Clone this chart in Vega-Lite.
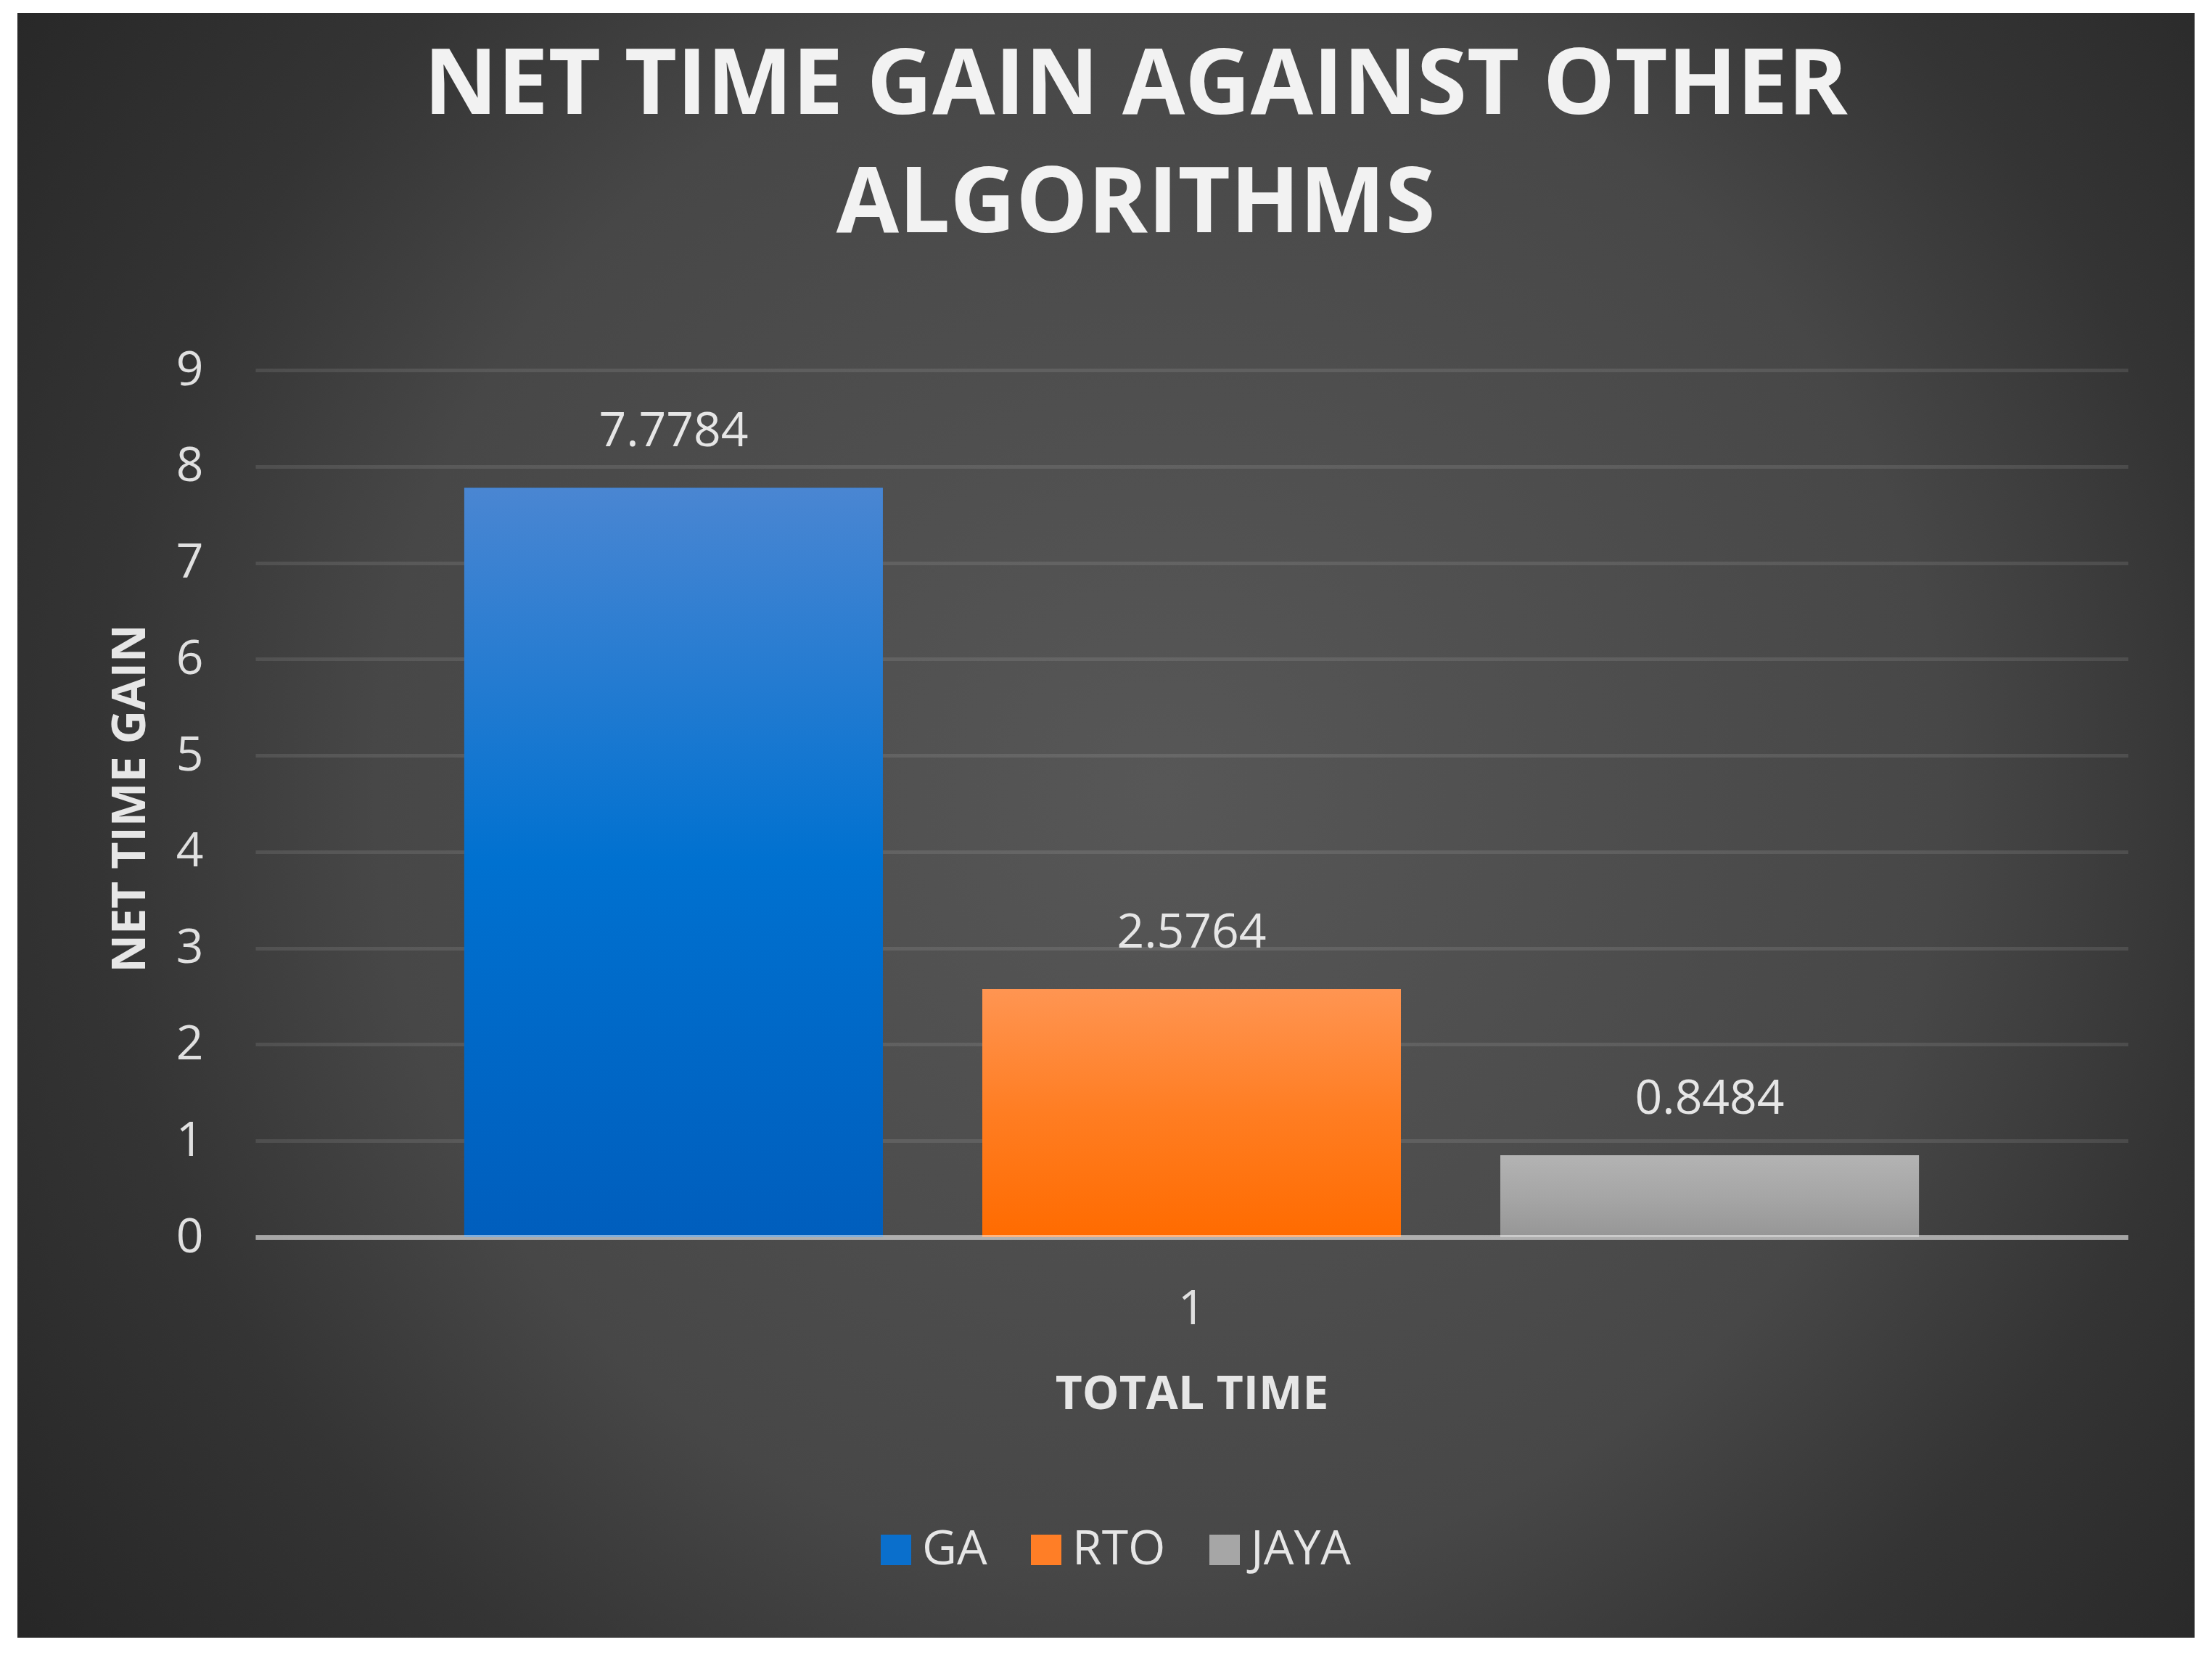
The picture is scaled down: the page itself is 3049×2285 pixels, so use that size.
{
  "$schema": "https://vega.github.io/schema/vega-lite/v6.json",
  "width": 3001,
  "height": 2239,
  "autosize": {"type": "none"},
  "padding": {"left": 24, "top": 18, "right": 24, "bottom": 28},
  "background": "#ffffff",
  "view": {
    "stroke": null,
    "fill": {
      "gradient": "radial",
      "x1": 0.525, "y1": 0.483, "r1": 0,
      "x2": 0.525, "y2": 0.483, "r2": 0.72,
      "stops": [
        {"offset": 0, "color": "#575757"},
        {"offset": 0.5, "color": "#474747"},
        {"offset": 0.68, "color": "#343434"},
        {"offset": 1, "color": "#212121"}
      ]
    }
  },
  "title": {
    "text": ["NET TIME GAIN AGAINST OTHER", "ALGORITHMS"],
    "font": "Open Sans",
    "fontSize": 125,
    "fontWeight": "bold",
    "color": "#f2f2f2",
    "lineHeight": 163,
    "anchor": "middle",
    "frame": "group",
    "baseline": "top",
    "offset": -328,
    "dx": 41
  },
  "data": {
    "values": [
      {"cat": "1", "series": "GA", "value": 7.7784},
      {"cat": "1", "series": "RTO", "value": 2.5764},
      {"cat": "1", "series": "JAYA", "value": 0.8484}
    ]
  },
  "encoding": {
    "x": {
      "field": "cat",
      "type": "nominal",
      "scale": {"domain": ["1"], "range": [328, 2909], "paddingInner": 0, "paddingOuter": 0.1436},
      "axis": {
        "orient": "bottom",
        "offset": -552,
        "labelAngle": 0,
        "grid": false,
        "domain": true,
        "domainColor": "#ffffff",
        "domainOpacity": 0.5,
        "domainWidth": 7,
        "ticks": false,
        "tickSize": 0,
        "labelPadding": 119,
        "labelBaseline": "alphabetic",
        "labelFont": "Open Sans",
        "labelFontSize": 66,
        "labelColor": "#e0e0e0",
        "title": "TOTAL TIME",
        "titleFont": "Open Sans",
        "titleFontSize": 64,
        "titleFontWeight": "bold",
        "titleColor": "#e6e6e6",
        "titlePadding": 104,
        "titleBaseline": "alphabetic",
        "zindex": 1
      }
    },
    "xOffset": {
      "field": "series",
      "type": "nominal",
      "sort": ["GA", "RTO", "JAYA"],
      "scale": {"domain": ["GA", "RTO", "JAYA"], "paddingInner": 0.192, "paddingOuter": 0}
    },
    "y": {
      "field": "value",
      "type": "quantitative",
      "scale": {"domain": [0, 9], "range": [1687, 492], "nice": false},
      "axis": {
        "values": [0, 1, 2, 3, 4, 5, 6, 7, 8, 9],
        "offset": -328,
        "domain": false,
        "ticks": false,
        "tickSize": 0,
        "labelPadding": 72,
        "labelFont": "Open Sans",
        "labelFontSize": 66,
        "labelColor": "#e0e0e0",
        "labelBaseline": "middle",
        "grid": true,
        "gridColor": "#ffffff",
        "gridOpacity": 0.1,
        "gridWidth": 5,
        "title": "NET TIME GAIN",
        "titleFont": "Open Sans",
        "titleFontSize": 64.5,
        "titleFontWeight": "bold",
        "titleColor": "#e6e6e6",
        "titlePadding": 43,
        "titleBaseline": "alphabetic",
        "titleY": 1082
      }
    }
  },
  "layer": [
    {
      "mark": {"type": "bar", "strokeWidth": 0},
      "encoding": {
        "color": {
          "field": "series",
          "type": "nominal",
          "scale": {"domain": ["GA", "RTO", "JAYA"], "range": ["#0a6fcc", "#ff7e26", "#a6a6a6"]},
          "legend": {
            "orient": "none",
            "legendX": 1178,
            "legendY": 2085,
            "direction": "horizontal",
            "title": null,
            "padding": 0,
            "symbolType": "square",
            "symbolSize": 1764,
            "symbolStrokeWidth": 0,
            "symbolOpacity": 1,
            "labelFont": "Open Sans",
            "labelFontSize": 66,
            "labelColor": "#e6e6e6",
            "labelOffset": 3,
            "columnPadding": 48
          }
        }
      }
    },
    {
      "transform": [{"filter": "datum.series === 'GA'"}],
      "mark": {"type": "bar", "strokeWidth": 0, "fill": {"gradient": "linear", "x1": 0, "y1": 0, "x2": 0, "y2": 1, "stops": [{"offset": 0, "color": "#4a86d2"}, {"offset": 0.5, "color": "#0071d0"}, {"offset": 1, "color": "#005ebd"}]}}
    },
    {
      "transform": [{"filter": "datum.series === 'RTO'"}],
      "mark": {"type": "bar", "strokeWidth": 0, "fill": {"gradient": "linear", "x1": 0, "y1": 0, "x2": 0, "y2": 1, "stops": [{"offset": 0, "color": "#ff9552"}, {"offset": 0.5, "color": "#ff7d22"}, {"offset": 1, "color": "#ff6b00"}]}}
    },
    {
      "transform": [{"filter": "datum.series === 'JAYA'"}],
      "mark": {"type": "bar", "strokeWidth": 0, "fill": {"gradient": "linear", "x1": 0, "y1": 0, "x2": 0, "y2": 1, "stops": [{"offset": 0, "color": "#b3b3b3"}, {"offset": 0.5, "color": "#a6a6a6"}, {"offset": 1, "color": "#969696"}]}}
    },
    {
      "mark": {"type": "text", "baseline": "alphabetic", "dy": -57, "font": "Open Sans", "fontSize": 66, "color": "#e6e6e6"},
      "encoding": {
        "text": {"field": "value", "type": "quantitative", "format": ".4f"}
      }
    }
  ]
}
